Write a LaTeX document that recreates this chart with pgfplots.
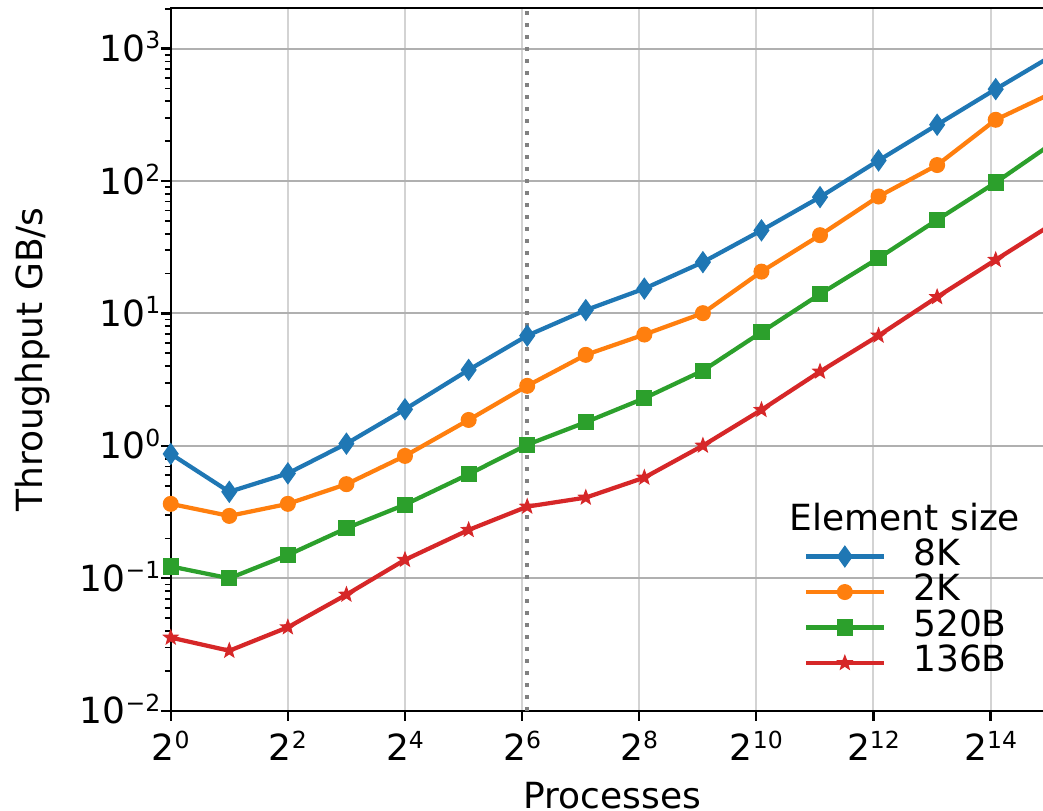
\documentclass[border=0pt]{standalone}
\usepackage{fontspec}
\setmainfont{DejaVu Sans}
\usepackage{pgfplots}
\pgfplotsset{compat=1.18}

\definecolor{c1}{HTML}{1F77B4}
\definecolor{c2}{HTML}{FF7F0E}
\definecolor{c3}{HTML}{2CA02C}
\definecolor{c4}{HTML}{D62728}
\definecolor{gx}{HTML}{D3D3D3}
\definecolor{gy}{HTML}{B0B0B0}

% filled five-point star (matplotlib '*')
\pgfdeclareplotmark{fstar}{%
  \pgfpathmoveto{\pgfpointpolar{90}{\pgfplotmarksize}}%
  \pgfpathlineto{\pgfpointpolar{126}{0.42\pgfplotmarksize}}%
  \pgfpathlineto{\pgfpointpolar{162}{\pgfplotmarksize}}%
  \pgfpathlineto{\pgfpointpolar{198}{0.42\pgfplotmarksize}}%
  \pgfpathlineto{\pgfpointpolar{234}{\pgfplotmarksize}}%
  \pgfpathlineto{\pgfpointpolar{270}{0.42\pgfplotmarksize}}%
  \pgfpathlineto{\pgfpointpolar{306}{\pgfplotmarksize}}%
  \pgfpathlineto{\pgfpointpolar{342}{0.42\pgfplotmarksize}}%
  \pgfpathlineto{\pgfpointpolar{18}{\pgfplotmarksize}}%
  \pgfpathlineto{\pgfpointpolar{54}{0.42\pgfplotmarksize}}%
  \pgfpathclose
  \pgfusepathqfillstroke
}

\newcommand\sups[1]{\raisebox{0.35em}{\fontsize{9.4}{10}\selectfont #1}}

\begin{document}
\begin{tikzpicture}[font=\fontsize{14.4}{17}\selectfont]
\begin{axis}[
    xmode=log, ymode=log, log basis x=2,
    scale only axis,
    width=353.4pt, height=281.1pt,
    xmin=1, xmax=34816,
    ymin=0.01, ymax=2025,
    xtick={1,4,16,64,256,1024,4096,16384},
    xticklabels={2\sups{0},2\sups{2},2\sups{4},2\sups{6},2\sups{8},2\sups{10},2\sups{12},2\sups{14}},
    ytick={0.01,0.1,1,10,100,1000},
    yticklabels={10\sups{−2},10\sups{−1},10\sups{0},10\sups{1},10\sups{2},10\sups{3}},
    minor ytick={0.02,0.03,0.04,0.05,0.06,0.07,0.08,0.09,
                 0.2,0.3,0.4,0.5,0.6,0.7,0.8,0.9,
                 2,3,4,5,6,7,8,9,
                 20,30,40,50,60,70,80,90,
                 200,300,400,500,600,700,800,900,2000},
    tick pos=left,
    tick align=outside,
    major tick length=4pt,
    minor tick length=2.4pt,
    tick style={black, line width=0.9pt},
    minor tick style={line width=0.7pt},
    axis line style={line width=0.9pt},
    xmajorgrids, ymajorgrids,
    x grid style={gx, line width=0.8pt},
    y grid style={gy, line width=0.8pt},
    tick label style={font=\fontsize{14.4}{17}\selectfont},
    xticklabel style={anchor=base, inner sep=0pt, yshift=-16pt},
    yticklabel style={anchor=base east, inner sep=0pt, yshift=-5.2pt},
    xlabel={Processes},
    ylabel={Throughput GB/s},
    xlabel style={at={(axis description cs:0.5,-0.1384)}, anchor=base, inner sep=0pt},
    ylabel style={at={(axis description cs:-0.1457,0.5)}, anchor=base, inner sep=0pt, rotate=0},
    legend style={
        at={(axis description cs:0.7167,0.2447)}, anchor=north west,
        draw=none, fill=none, inner sep=0pt, outer sep=0pt,
        row sep=0pt, column sep=11pt,
        nodes={inner sep=0pt, text height=10.5pt, text depth=3.7pt},
        font=\fontsize{14.4}{17}\selectfont,
    },
    legend cell align=left,
    legend image code/.code={\draw[mark repeat=2,mark phase=2,#1] plot coordinates {(0pt,0pt) (15.5pt,0pt) (31pt,0pt)};},
    every axis plot/.append style={line width=1.7pt},
]
\addplot[c1, mark=diamond*, mark size=4.1pt, mark options={xscale=0.95, solid, fill=c1, line width=0.5pt}] coordinates {
(1,0.87) (2,0.45) (4,0.62) (8,1.04) (16,1.89) (34,3.75) (68,6.8) (136,10.6)
(272,15.4) (544,24.4) (1088,42.4) (2176,75.6) (4352,143) (8704,266) (17408,494) (34816,903)
};
\addlegendentry{8K}
\addplot[c2, mark=*, mark size=2.95pt, mark options={solid, fill=c2, line width=0.5pt}] coordinates {
(1,0.365) (2,0.296) (4,0.365) (8,0.514) (16,0.84) (34,1.57) (68,2.84) (136,4.87)
(272,6.93) (544,10.05) (1088,20.7) (2176,39) (4352,76.4) (8704,132) (17408,290) (34816,470)
};
\addlegendentry{2K}
\addplot[c3, mark=square*, mark size=3.0pt, mark options={solid, fill=c3, line width=0.5pt}] coordinates {
(1,0.123) (2,0.100) (4,0.150) (8,0.239) (16,0.360) (34,0.611) (68,1.02) (136,1.51)
(272,2.29) (544,3.70) (1088,7.22) (2176,14.0) (4352,26.2) (8704,50.9) (17408,97.5) (34816,197)
};
\addlegendentry{520B}
\addplot[c4, mark=fstar, mark size=2.9pt, mark options={solid, fill=c4, line width=0.5pt}] coordinates {
(1,0.0357) (2,0.0284) (4,0.0427) (8,0.0753) (16,0.138) (34,0.232) (68,0.348) (136,0.407)
(272,0.576) (544,1.005) (1088,1.87) (2176,3.64) (4352,6.81) (8704,13.3) (17408,25.4) (34816,48.3)
};
\addlegendentry{136B}
\addplot[forget plot, color=gray, line width=1.6pt, dash pattern=on 1.5pt off 3.3pt] coordinates {(68,0.01) (68,2025)};
\node[anchor=base, inner sep=0pt] at (axis description cs:0.831,0.2572) {Element size};
\end{axis}
\pgfresetboundingbox
\path[use as bounding box] ([shift={(-68.3pt,-39.7pt)}]current axis.south west) rectangle ([shift={(348.9pt,284.3pt)}]current axis.south west);
\end{tikzpicture}
\end{document}
